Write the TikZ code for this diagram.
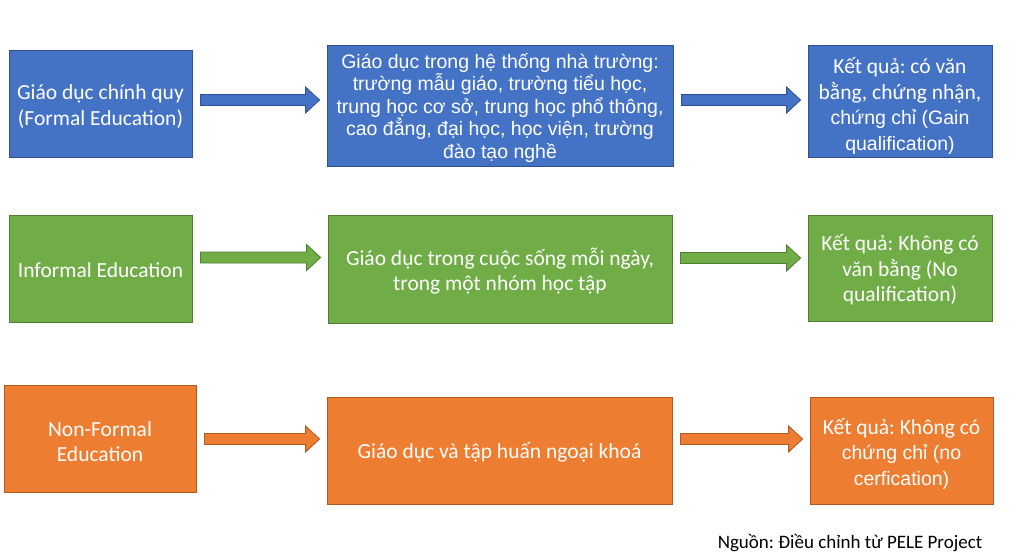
\documentclass[tikz,border=0pt]{standalone}
\usepackage{fontspec}
\setmainfont{Carlito}
\newfontfamily\calfont{Carlito}
\newfontfamily\arifont{Liberation Sans}
\usetikzlibrary{calc}
\frenchspacing
\definecolor{bluef}{HTML}{4472C4}
\definecolor{blued}{HTML}{2F528F}
\definecolor{greenf}{HTML}{70AD47}
\definecolor{greend}{HTML}{507E32}
\definecolor{orangef}{HTML}{ED7D31}
\definecolor{oranged}{HTML}{AE5A21}
\newcommand\calsz{\calfont\fontsize{21.5}{25.5}\selectfont}
\tikzset{
  box/.style={rectangle, line width=0.8pt, inner sep=0pt},
  bluebox/.style={box, fill=bluef, draw=blued},
  greenbox/.style={box, fill=greenf, draw=greend},
  orangebox/.style={box, fill=orangef, draw=oranged},
  txt/.style={text=white, align=center, inner sep=0pt},
  cal/.style={txt, font=\calsz},
  ari/.style={txt, font=\arifont\fontsize{19.5}{22.5}\selectfont},
  arib/.style={txt, font=\arifont\fontsize{19.5}{25.5}\selectfont},
  bluearrow/.style={fill=bluef, draw=blued, line width=0.8pt},
  greenarrow/.style={fill=greenf, draw=greend, line width=0.8pt},
  orangearrow/.style={fill=orangef, draw=oranged, line width=0.8pt},
}
\newcommand\blockarrow[4]{%
  \path[#4] let \p1=(#1.east), \p2=(#2.west) in
    (\x1+8pt,-#3pt+5.5pt) -- (\x2-21pt,-#3pt+5.5pt) -- (\x2-21pt,-#3pt+13pt)
    -- (\x2-7pt,-#3pt) -- (\x2-21pt,-#3pt-13pt) -- (\x2-21pt,-#3pt-5.5pt)
    -- (\x1+8pt,-#3pt-5.5pt) -- cycle;}
\begin{document}
\begin{tikzpicture}[x=1pt,y=-1pt]
\useasboundingbox[fill=white] (0,0) rectangle (1023,555);
% row 1
\node[bluebox, minimum width=183pt, minimum height=107pt] (a1) at (100.5,103.5) {};
\node[cal] (a1t) at ([yshift=-3pt]a1.center) {Giáo dục chính quy\\(Formal Education)};
\node[bluebox, minimum width=346pt, minimum height=121pt] (b1) at (500,105.5) {};
\node[ari] (b1t) at ([yshift=-2.5pt]b1.center)
  {Giáo dục trong hệ thống nhà trường:\\trường mẫu giáo, trường tiểu học,\\trung học cơ sở, trung học phổ thông,\\cao đẳng, đại học, học viện, trường\\đào tạo nghề};
\node[bluebox, minimum width=184pt, minimum height=112pt] (c1) at (900,101) {};
\node[arib] (c1t) at ([yshift=-5pt]c1.center)
  {{\calsz Kết quả: có văn}\\{\calsz bằng, chứng nhận,}\\chứng chỉ (Gain\\qualification)};
\blockarrow{a1}{b1}{100}{bluearrow}
\blockarrow{b1}{c1}{100}{bluearrow}
% row 2
\node[greenbox, minimum width=183pt, minimum height=107pt] (a2) at (100.5,268.5) {};
\node[cal] (a2t) at ([yshift=-2pt]a2.center) {Informal Education};
\node[greenbox, minimum width=344pt, minimum height=108pt] (b2) at (500,269) {};
\node[cal] (b2t) at ([yshift=-2pt]b2.center) {Giáo dục trong cuộc sống mỗi ngày,\\trong một nhóm học tập};
\node[greenbox, minimum width=184pt, minimum height=106pt] (c2) at (900,268) {};
\node[cal] (c2t) at ([yshift=-2pt]c2.center) {Kết quả: Không có\\văn bằng (No\\qualification)};
\blockarrow{a2}{b2}{257.5}{greenarrow}
\blockarrow{b2}{c2}{258}{greenarrow}
% row 3
\node[orangebox, minimum width=192pt, minimum height=107pt] (a3) at (100,438.5) {};
\node[cal] (a3t) at ([yshift=-3pt]a3.center) {Non-Formal\\Education};
\node[orangebox, minimum width=345pt, minimum height=107pt] (b3) at (499.5,450.5) {};
\node[cal] (b3t) at ([yshift=-2pt]b3.center) {Giáo dục và tập huấn ngoại khoá};
\node[orangebox, minimum width=183pt, minimum height=107pt] (c3) at (901.5,450.5) {};
\node[arib] (c3t) at ([yshift=-3pt]c3.center)
  {{\calsz Kết quả: Không có}\\chứng chỉ (no\\cerfication)};
\blockarrow{a3}{b3}{439}{orangearrow}
\blockarrow{b3}{c3}{439}{orangearrow}
% source
\node[font=\calfont\fontsize{19}{22}\selectfont, text=black, inner sep=0pt] (src) at (850,543)
  {Nguồn: Điều chỉnh từ PELE Project};
\end{tikzpicture}
\end{document}
